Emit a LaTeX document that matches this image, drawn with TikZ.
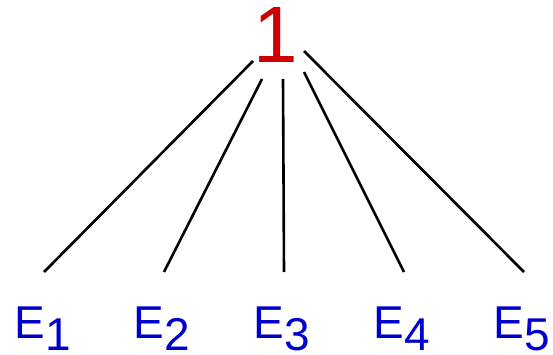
\documentclass[tikz,border=0pt]{standalone}
\usepackage{fontspec}
\setmainfont{Liberation Sans}
\definecolor{topred}{RGB}{204,0,0}
\definecolor{labblue}{RGB}{0,0,204}
\begin{document}
\begin{tikzpicture}[x=1pt,y=-1pt,
  lab/.style={inner sep=0pt,anchor=base west,text=labblue,font=\fontsize{46}{46}\selectfont},
  edge/.style={line width=2.6pt,black}]
\useasboundingbox (0,0) rectangle (553,355);
\node[inner sep=0pt,anchor=base,text=topred,font=\fontsize{80}{80}\selectfont] (top) at (275.5,63) {1};
\coordinate (t1) at (253,61);
\coordinate (t2) at (262,79);
\coordinate (t3) at (283,79);
\coordinate (t4) at (304,72);
\coordinate (t5) at (304,51);
\coordinate (b1) at (44,272);
\coordinate (b2) at (164,272);
\coordinate (b3) at (284,272);
\coordinate (b4) at (404,272);
\coordinate (b5) at (524,272);
\foreach \i in {1,...,5} \draw[edge] (t\i) -- (b\i);
\node[lab] (e1) at (14.5,338) {E\raisebox{-12pt}{1}};
\node[lab] (e2) at (133.5,338) {E\raisebox{-12pt}{2}};
\node[lab] (e3) at (253.5,338) {E\raisebox{-12pt}{3}};
\node[lab] (e4) at (373.5,338) {E\raisebox{-12pt}{4}};
\node[lab] (e5) at (493.5,338) {E\raisebox{-12pt}{5}};
\end{tikzpicture}
\end{document}
